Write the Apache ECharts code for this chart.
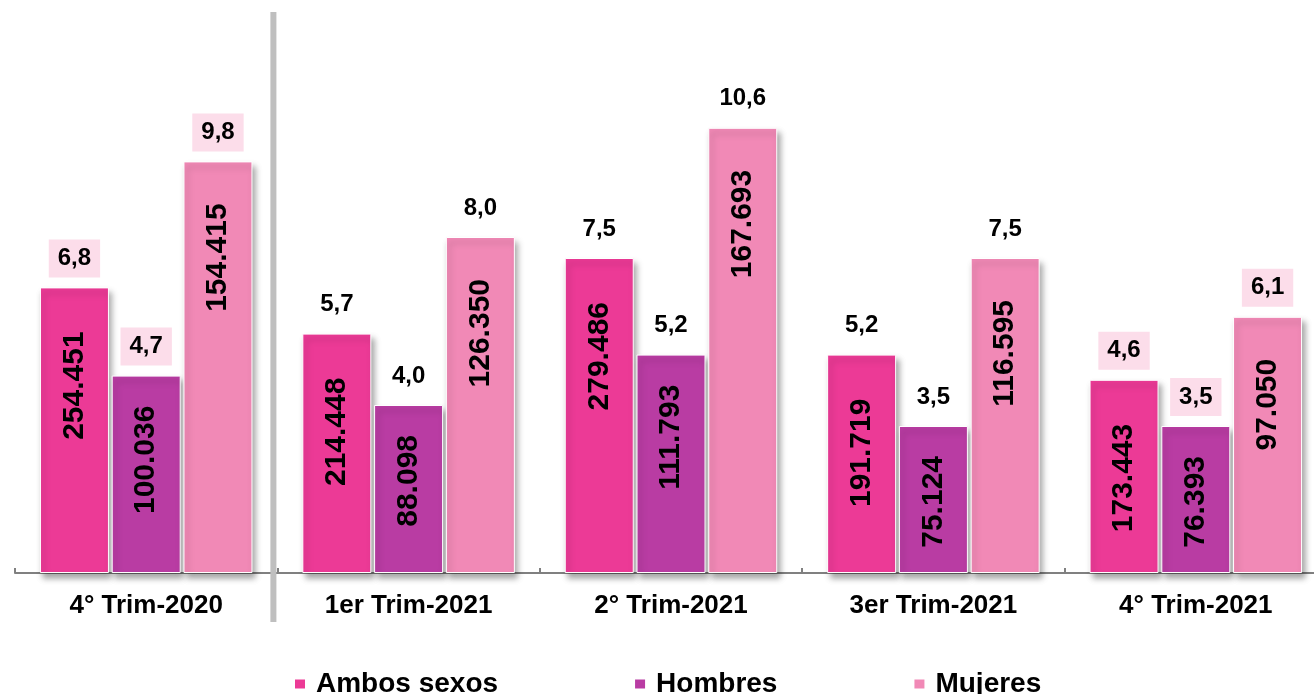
<!DOCTYPE html>
<html><head><meta charset="utf-8">
<script src="https://cdn.jsdelivr.net/npm/echarts@6/dist/echarts.min.js"></script>
<style>html,body{margin:0;padding:0;background:#fff}#c{width:1314px;height:694px}</style>
</head><body><div id="c"></div>
<script>
// ---- data ----
const categories = ['4° Trim-2020', '1er Trim-2021', '2° Trim-2021', '3er Trim-2021', '4° Trim-2021'];
const seriesNames = ['Ambos sexos', 'Hombres', 'Mujeres'];
const rateAmbos   = [6.8, 5.7, 7.5, 5.2, 4.6];
const rateHombres = [4.7, 4.0, 5.2, 3.5, 3.5];
const rateMujeres = [9.8, 8.0, 10.6, 7.5, 6.1];
const countAmbos   = [254451, 214448, 279486, 191719, 173443];
const countHombres = [100036, 88098, 111793, 75124, 76393];
const countMujeres = [154415, 126350, 167693, 116595, 97050];

// ---- style ----
const FONT = '"Liberation Sans", Arial, sans-serif';
const colors = ['#EC3A96', '#B93CA3', '#F189B6'];
const boxedCategories = [0, 4];
const boxColor = '#FCDDEA';
const insideDist = [44, 30, 42];

function fmtRate(v) { return v.toFixed(1).replace('.', ','); }
function fmtCount(v) { return String(v).replace(/\B(?=(\d{3})+(?!\d))/g, '.'); }

const rates = [rateAmbos, rateHombres, rateMujeres];
const counts = [countAmbos, countHombres, countMujeres];

const series = [];
rates.forEach((r, i) => {
  series.push({
    name: seriesNames[i], type: 'bar', xAxisIndex: 0, barWidth: 69, barGap: '4%', z: 2,
    itemStyle: { color: colors[i], borderColor: '#fff', borderWidth: 1,
      shadowColor: 'rgba(0,0,0,0.35)', shadowBlur: 6, shadowOffsetX: 3, shadowOffsetY: 5 },
    label: { show: true, position: 'top', distance: 10, padding: [7, 9],
      formatter: p => fmtRate(p.value), color: '#000', fontSize: 24, fontWeight: 'bold', fontFamily: FONT },
    data: r.map((v, k) => ({ value: v, label: { backgroundColor: boxedCategories.includes(k) ? boxColor : 'transparent' } }))
  });
});
rates.forEach((r, i) => {
  series.push({
    name: seriesNames[i] + '_n', type: 'bar', xAxisIndex: 1, barWidth: 69, barGap: '4%', z: 4, silent: true,
    itemStyle: { color: 'rgba(0,0,0,0)' },
    label: { show: true, position: 'insideTop', distance: insideDist[i], rotate: 90, align: 'right', verticalAlign: 'middle',
      formatter: p => fmtCount(counts[i][p.dataIndex]), color: '#000', fontSize: 30, fontWeight: 'bold', fontFamily: FONT },
    data: r.slice()
  });
});

const chart = echarts.init(document.getElementById('c'), null, { renderer: 'canvas' });
chart.setOption({
  animation: false,
  backgroundColor: '#fff',
  grid: { left: 15, width: 1312, top: 69, bottom: 121, outerBoundsMode: 'none', containLabel: false },
  xAxis: [
    { type: 'category', data: categories,
      axisLine: { lineStyle: { color: '#808080', width: 2 } },
      axisTick: { show: false },
      axisLabel: { color: '#000', fontSize: 26, fontWeight: 'bold', fontFamily: FONT, margin: 20, interval: 0 } },
    { type: 'category', data: categories, show: false },
    { type: 'category', data: Array(categories.length * 2).fill(''), position: 'bottom',
      axisLine: { show: false }, axisLabel: { show: false },
      axisTick: { show: true, inside: true, length: 5, lineStyle: { color: '#808080', width: 2 } } }
  ],
  yAxis: { type: 'value', min: 0, max: 12, show: false, splitLine: { show: false } },
  legend: {
    data: seriesNames, left: 288, top: 665, icon: 'rect', itemWidth: 12, itemHeight: 11, itemGap: 135,
    textStyle: { color: '#000', fontSize: 28, fontWeight: 'bold', fontFamily: FONT, padding: [0, 0, 0, 5] }
  },
  series: series
});

const x0 = chart.convertToPixel({ xAxisIndex: 0 }, categories[0]);
const x1 = chart.convertToPixel({ xAxisIndex: 0 }, categories[1]);
const sepX = (x0 + x1) / 2 - 4;
chart.setOption({
  graphic: [{ type: 'rect', z: 10, shape: { x: sepX - 3, y: 12, width: 6, height: 610 }, style: { fill: '#BFBFBF' } }]
});
</script></body></html>
